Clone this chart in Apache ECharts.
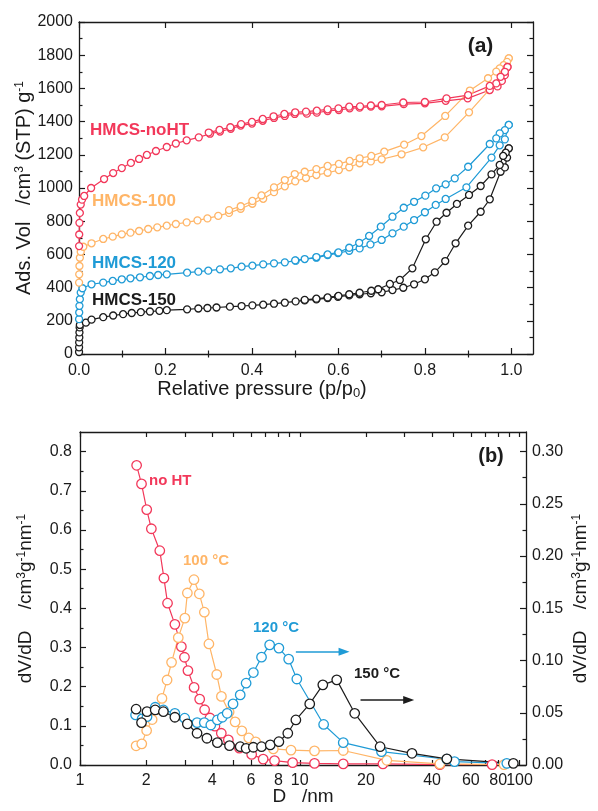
<!DOCTYPE html>
<html><head><meta charset="utf-8">
<script src="https://cdn.jsdelivr.net/npm/echarts@6/dist/echarts.min.js"></script>
<style>html,body{margin:0;padding:0;background:#fff}#c{width:598px;height:811px}</style>
</head><body><div id="c"></div>
<script>
// ---------- (a) isotherms: [p/p0, V] ----------
const noHT_ads = [[0.0002,650],[0.0005,720],[0.001,790],[0.002,850],[0.004,900],[0.007,930],[0.012,952],[0.028,1000],[0.058,1054],[0.079,1090],[0.099,1120],[0.120,1151],[0.139,1175],[0.157,1199],[0.178,1223],[0.203,1247],[0.224,1268],[0.249,1287],[0.277,1305],[0.303,1327],[0.326,1340],[0.351,1357],[0.374,1376],[0.400,1388],[0.425,1405],[0.451,1422],[0.476,1434],[0.499,1446],[0.527,1448],[0.550,1454],[0.575,1464],[0.601,1470],[0.626,1480],[0.649,1484],[0.675,1490],[0.700,1492],[0.751,1505],[0.800,1510],[0.848,1525],[0.899,1540],[0.950,1590],[0.968,1612],[0.978,1645],[0.985,1680],[0.991,1729]];
const noHT_des = [[0.991,1729],[0.985,1700],[0.975,1670],[0.965,1630],[0.950,1615],[0.900,1560],[0.850,1540],[0.800,1518],[0.750,1515],[0.700,1500],[0.675,1497],[0.650,1492],[0.625,1490],[0.600,1480],[0.575,1474],[0.550,1466],[0.525,1460],[0.500,1456],[0.475,1446],[0.450,1432],[0.425,1416],[0.400,1398],[0.375,1385],[0.350,1366],[0.325,1350],[0.300,1334]];
const h100_ads = [[0.0002,430],[0.0005,480],[0.001,530],[0.002,580],[0.004,616],[0.010,646],[0.029,667],[0.056,693],[0.078,707],[0.099,721],[0.119,731],[0.139,741],[0.160,753],[0.181,763],[0.203,773],[0.224,783],[0.249,793],[0.274,805],[0.297,817],[0.322,832],[0.347,850],[0.374,875],[0.401,905],[0.426,935],[0.451,975],[0.476,1010],[0.500,1040],[0.525,1060],[0.549,1078],[0.575,1092],[0.601,1108],[0.625,1125],[0.649,1149],[0.675,1160],[0.700,1173],[0.746,1203],[0.796,1245],[0.846,1305],[0.902,1456],[0.948,1590],[0.973,1640],[0.982,1690],[0.990,1740],[0.994,1781]];
const h100_des = [[0.994,1781],[0.990,1760],[0.982,1740],[0.973,1721],[0.965,1701],[0.946,1661],[0.904,1587],[0.847,1434],[0.792,1313],[0.752,1261],[0.706,1219],[0.676,1193],[0.649,1179],[0.626,1163],[0.601,1145],[0.575,1133],[0.549,1114],[0.522,1098],[0.499,1084],[0.476,1048],[0.451,1004],[0.422,955],[0.401,922],[0.374,890],[0.347,867]];
const h120_ads = [[0.0002,210],[0.0005,250],[0.001,290],[0.002,330],[0.004,370],[0.008,396],[0.029,420],[0.056,430],[0.078,440],[0.099,450],[0.119,456],[0.141,462],[0.164,470],[0.183,476],[0.203,480],[0.250,490],[0.276,496],[0.299,502],[0.326,510],[0.351,516],[0.376,526],[0.401,532],[0.426,540],[0.451,546],[0.476,552],[0.501,562],[0.549,580],[0.575,596],[0.599,608],[0.625,622],[0.649,636],[0.674,660],[0.700,687],[0.725,727],[0.751,767],[0.775,807],[0.800,854],[0.825,898],[0.848,934],[0.896,1004],[0.954,1183],[0.973,1257],[0.985,1293],[0.994,1380]];
const h120_des = [[0.994,1380],[0.985,1349],[0.973,1329],[0.965,1299],[0.950,1265],[0.900,1128],[0.869,1058],[0.848,1022],[0.826,998],[0.801,954],[0.775,917],[0.751,881],[0.725,827],[0.698,767],[0.671,711],[0.648,670],[0.625,640],[0.600,612],[0.575,600],[0.549,584],[0.522,572],[0.500,564]];
const h150_ads = [[0.0001,12],[0.0002,40],[0.0004,70],[0.0007,100],[0.001,130],[0.0015,160],[0.002,175],[0.016,189],[0.029,207],[0.056,222],[0.079,232],[0.102,240],[0.122,247],[0.143,252],[0.164,256],[0.186,260],[0.203,264],[0.250,269],[0.276,274],[0.297,277],[0.318,280],[0.349,285],[0.376,289],[0.401,293],[0.426,297],[0.451,303],[0.476,309],[0.501,317],[0.522,323],[0.549,329],[0.575,337],[0.599,345],[0.625,353],[0.649,360],[0.675,366],[0.700,372],[0.725,385],[0.750,399],[0.775,420],[0.800,450],[0.823,492],[0.847,560],[0.871,667],[0.900,773],[0.929,857],[0.950,932],[0.975,1098],[0.985,1124],[0.990,1183],[0.994,1239]];
const h150_des = [[0.994,1239],[0.987,1213],[0.981,1193],[0.973,1139],[0.954,1082],[0.929,1012],[0.902,958],[0.874,904],[0.850,851],[0.827,797],[0.802,691],[0.771,516],[0.742,446],[0.719,422],[0.692,390],[0.676,381],[0.649,369],[0.625,360],[0.600,350],[0.575,341],[0.549,333],[0.522,326]];

// ---------- (b) pore size distributions: [D/nm, dV/dD] ----------
const psd_noHT = [[1.81,0.765],[1.905,0.7175],[2.012,0.652],[2.112,0.603],[2.307,0.547],[2.409,0.477],[2.502,0.413],[2.702,0.359],[2.892,0.302],[2.988,0.275],[3.098,0.241],[3.305,0.198],[3.504,0.168],[3.690,0.141],[3.904,0.120],[4.111,0.099],[4.395,0.081],[4.732,0.064],[5.314,0.043],[6.042,0.027],[6.815,0.015],[7.678,0.011],[9.28,0.006],[11.67,0.004],[15.77,0.003],[23.9,0.003],[43.4,0.001],[75,0.001]];
const psd_100 = [[1.80,0.049],[1.91,0.054],[2.01,0.088],[2.13,0.116],[2.24,0.142],[2.36,0.170],[2.49,0.217],[2.61,0.262],[2.80,0.325],[3.00,0.375],[3.08,0.439],[3.30,0.473],[3.49,0.437],[3.68,0.390],[3.86,0.309],[4.19,0.231],[4.40,0.175],[4.77,0.135],[5.08,0.110],[5.45,0.087],[5.86,0.069],[6.30,0.059],[7.58,0.041],[9.12,0.038],[11.67,0.036],[15.77,0.037],[24.9,0.012],[43.4,0.003],[85,0.001]];
const psd_120 = [[1.79,0.0479],[1.917,0.0441],[2.018,0.0463],[2.199,0.0553],[2.396,0.0527],[2.702,0.0495],[2.995,0.0448],[3.409,0.0406],[3.678,0.0406],[3.937,0.0383],[4.217,0.0431],[4.44,0.0457],[4.673,0.0495],[4.97,0.0585],[5.358,0.0671],[5.70,0.0783],[6.15,0.0885],[6.698,0.1032],[7.294,0.1150],[8.035,0.1119],[8.903,0.1013],[9.696,0.0823],[12.84,0.0388],[15.77,0.0214],[23.54,0.0128],[46.7,0.0055],[50.6,0.0032],[87.5,0.0016]];
const psd_150 = [[1.80,0.0534],[1.905,0.0406],[2.018,0.0511],[2.199,0.0527],[2.396,0.0510],[2.702,0.0457],[3.08,0.0393],[3.409,0.0304],[3.78,0.0256],[4.217,0.0214],[4.79,0.0185],[5.358,0.0175],[5.70,0.0160],[6.15,0.0170],[6.698,0.0175],[7.34,0.0192],[8.035,0.0223],[8.82,0.0304],[9.60,0.0431],[11.1,0.0585],[12.73,0.0767],[14.73,0.0815],[17.78,0.0495],[23.2,0.0175],[32.4,0.0112],[46.7,0.0058],[93.7,0.0016]];
const arrow120 = [[9.6,0.1083],[15.9,0.1083]];
const arrow150 = [[18.9,0.0623],[31.3,0.0623]];

// ---------- ticks ----------
const isoXTicks = [0,0.2,0.4,0.6,0.8,1.0];
const isoXMinor = [0.1,0.3,0.5,0.7,0.9];
const psdXLabels = [1,2,4,6,8,10,20,40,60,80];
const psdXLabelLast = [100];
const psdXTicks = [1,2,3,4,5,6,7,8,9,10,20,30,40,50,60,70,80,90,100];
const psdYLeft = [0,0.1,0.2,0.3,0.4,0.5,0.6,0.7,0.8];
const psdYLeftMinor = [0.05,0.15,0.25,0.35,0.45,0.55,0.65,0.75];
const psdYRight = [0,0.05,0.10,0.15,0.20,0.25,0.30];
const psdYRightMinor = [0.025,0.075,0.125,0.175,0.225,0.275];

const RED='#F2385A', ORA='#FFB567', BLU='#1F9BD6', BLK='#1c1c1c', AX='#1a1a1a';
const FF='"Liberation Sans", Arial, sans-serif';

function line(){ return {show:true, onZero:false, lineStyle:{color:AX,width:1.3}}; }
function tick(len, vals){ const t={show:true, inside:true, length:len, lineStyle:{color:AX,width:1.2}}; if(vals) t.customValues=vals; return t; }
const lab = (fmt, vals, margin) => { const l={show:true, color:AX, fontSize:16, fontFamily:FF, margin:margin, formatter:fmt, hideOverlap:false, showMinLabel:true, showMaxLabel:true}; if(vals) l.customValues=vals; return l; };
const nolab = {show:false};
const nosplit = {show:false};
const supRich = {sup:{fontSize:12, verticalAlign:'top', fontFamily:FF, color:AX}};

const chart = echarts.init(document.getElementById('c'), null, {renderer:'canvas'});

const xAxis = [
  {gridIndex:0, type:'value', min:0, max:1.05, position:'bottom', axisLine:line(), axisTick:tick(6, isoXTicks), axisLabel:lab(v=>v.toFixed(1), isoXTicks, 9), splitLine:nosplit,
   name:'Relative pressure (p/p{sub|0})', nameLocation:'middle', nameGap:25, nameMoveOverlap:false,
   nameTextStyle:{color:AX, fontSize:20, fontFamily:FF, padding:[0,88,0,0], rich:{sub:{fontSize:13, verticalAlign:'bottom', fontFamily:FF, color:AX, padding:[8,0,0,0]}}}},
  {gridIndex:0, type:'value', min:0, max:1.05, position:'bottom', axisLine:{show:false}, axisTick:tick(3.5, isoXMinor), axisLabel:nolab, splitLine:nosplit},
  {gridIndex:0, type:'value', min:0, max:1.05, position:'top', axisLine:line(), axisTick:tick(6, isoXTicks), axisLabel:nolab, splitLine:nosplit},
  {gridIndex:0, type:'value', min:0, max:1.05, position:'top', axisLine:{show:false}, axisTick:tick(3.5, isoXMinor), axisLabel:nolab, splitLine:nosplit},
  {gridIndex:1, type:'log', logBase:10, min:1, max:107, position:'bottom', axisLine:line(), axisTick:tick(5, psdXTicks), axisLabel:lab(v=>String(Math.round(v)), psdXLabels, 8), splitLine:nosplit, minorTick:{show:false},
   name:'D   /nm', nameLocation:'middle', nameGap:22, nameMoveOverlap:false, nameTextStyle:{color:AX, fontSize:19, fontFamily:FF}},
  {gridIndex:1, type:'log', logBase:10, min:1, max:107, position:'top', axisLine:line(), axisTick:tick(5, psdXTicks), axisLabel:nolab, splitLine:nosplit},
  {gridIndex:1, type:'log', logBase:10, min:1, max:107, position:'bottom', axisLine:{show:false}, axisTick:{show:false}, axisLabel:lab(v=>String(Math.round(v)), psdXLabelLast, 8), splitLine:nosplit}
];
const yAxis = [
  {gridIndex:0, type:'value', min:0, max:2000, interval:200, position:'left', axisLine:line(), axisTick:tick(6), minorTick:{show:true, splitNumber:2, length:3.5, lineStyle:{color:AX,width:1.2}},
   axisLabel:lab(v=>String(v), null, 6), splitLine:nosplit, minorSplitLine:{show:false},
   name:'Ads. Vol   /cm{sup|3} (STP) g{sup|-1}', nameLocation:'middle', nameGap:45, nameRotate:90, nameMoveOverlap:false,
   nameTextStyle:{color:AX, fontSize:20, fontFamily:FF, rich:supRich}},
  {gridIndex:0, type:'value', min:0, max:2000, interval:200, position:'right', axisLine:line(), axisTick:tick(6), minorTick:{show:true, splitNumber:2, length:3.5, lineStyle:{color:AX,width:1.2}},
   axisLabel:nolab, splitLine:nosplit, minorSplitLine:{show:false}},
  {gridIndex:1, type:'value', min:0, max:0.85, position:'left', axisLine:line(), axisTick:tick(6, psdYLeft), axisLabel:lab(v=>v.toFixed(1), psdYLeft, 8), splitLine:nosplit,
   name:'dV/dD    /cm{sup|3}g{sup|-1}nm{sup|-1}', nameLocation:'middle', nameGap:45, nameRotate:90, nameMoveOverlap:false,
   nameTextStyle:{color:AX, fontSize:19, fontFamily:FF, rich:supRich}},
  {gridIndex:1, type:'value', min:0, max:0.85, position:'left', axisLine:{show:false}, axisTick:tick(3.5, psdYLeftMinor), axisLabel:nolab, splitLine:nosplit},
  {gridIndex:1, type:'value', min:0, max:0.31875, position:'right', axisLine:line(), axisTick:tick(6, psdYRight), axisLabel:lab(v=>v.toFixed(2), psdYRight, 6), splitLine:nosplit,
   name:'dV/dD    /cm{sup|3}g{sup|-1}nm{sup|-1}', nameLocation:'middle', nameGap:45, nameRotate:90, nameMoveOverlap:false,
   nameTextStyle:{color:AX, fontSize:19, fontFamily:FF, rich:supRich}},
  {gridIndex:1, type:'value', min:0, max:0.31875, position:'right', axisLine:{show:false}, axisTick:tick(3.5, psdYRightMinor), axisLabel:nolab, splitLine:nosplit}
];

function ser(data, color, xi, yi, size, extra){
  return Object.assign({type:'line', data:data, xAxisIndex:xi, yAxisIndex:yi, symbol:'circle', symbolSize:size,
    showAllSymbol:true, animation:false, silent:true,
    lineStyle:{color:color, width:1.2}, itemStyle:{color:'#fff', borderColor:color, borderWidth:1.3}}, extra||{});
}
function arrowLine(pts, color){
  return {silent:true, symbol:['none','triangle'], symbolSize:[8,11], label:{show:false},
    lineStyle:{color:color, width:1.5, type:'solid'}, emphasis:{disabled:true},
    data:[[{coord:pts[0]},{coord:pts[1]}]]};
}

const series = [
  ser(h150_ads, BLK, 0, 0, 7), ser(h150_des, BLK, 0, 0, 7),
  ser(h120_ads, BLU, 0, 0, 7), ser(h120_des, BLU, 0, 0, 7),
  ser(h100_ads, ORA, 0, 0, 7), ser(h100_des, ORA, 0, 0, 7),
  ser(noHT_ads, RED, 0, 0, 7), ser(noHT_des, RED, 0, 0, 7),
  ser(psd_noHT, RED, 4, 2, 9.5),
  ser(psd_100, ORA, 4, 2, 9.5),
  ser(psd_120, BLU, 4, 4, 9.5, {markLine:arrowLine(arrow120, BLU)}),
  ser(psd_150, BLK, 4, 4, 9.5, {markLine:arrowLine(arrow150, BLK)})
];

function txt(x, y, s, color, size, align){
  return {type:'text', x:x, y:y, silent:true, z:100,
    style:{text:s, fill:color, font:'bold '+size+'px '+FF, align:align||'left', verticalAlign:'middle'}};
}

chart.setOption({
  animation:false,
  backgroundColor:'#fff',
  textStyle:{fontFamily:FF},
  grid:[{left:79, top:22, width:454, height:332}, {left:80, top:432, width:455, height:333}],
  xAxis:xAxis, yAxis:yAxis, series:series,
  graphic:[
    txt(90,130,'HMCS-noHT',RED,17), txt(92,201.5,'HMCS-100',ORA,17), txt(92,263.5,'HMCS-120',BLU,17), txt(92,300,'HMCS-150',BLK,17),
    txt(480.5,46.5,'(a)',BLK,21,'center'),
    txt(149,481,'no HT',RED,15), txt(183,560.5,'100 °C',ORA,15), txt(253,628,'120 °C',BLU,15), txt(354,674,'150 °C',BLK,15),
    txt(491,456,'(b)',BLK,20,'center')
  ]
});
</script></body></html>
